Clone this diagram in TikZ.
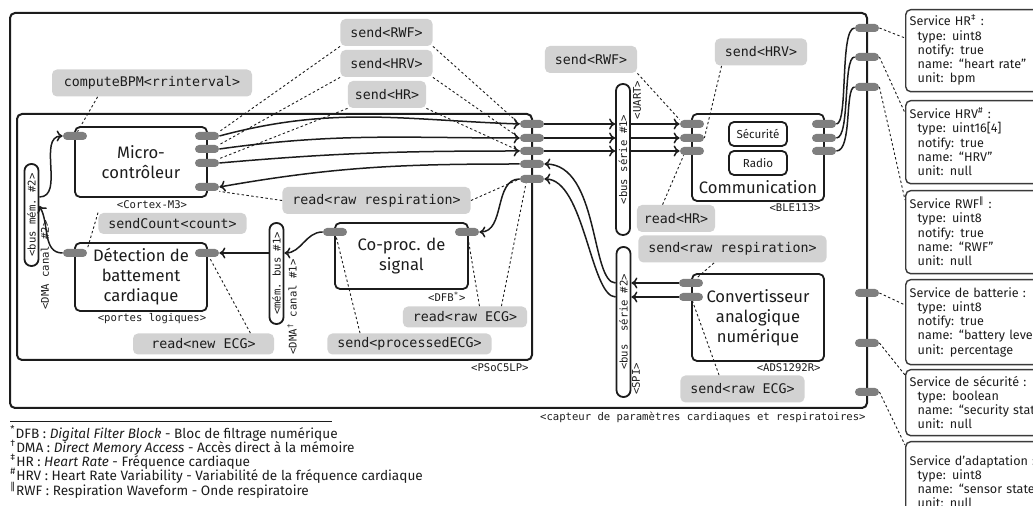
\documentclass[tikz,border=0pt]{standalone}
\usepackage{fontspec}
\setmainfont{Fira Sans}
\newfontfamily\hwMono{DejaVu Sans Mono}
\newfontfamily\hwSym{DejaVu Sans}
\usepackage{tikz}
\usetikzlibrary{arrows.meta,positioning,calc}
\definecolor{hwInk}{HTML}{1C1C1C}
\definecolor{hwPort}{HTML}{7F7F7F}
\definecolor{hwCall}{HTML}{D2D2D2}
\definecolor{hwLine}{HTML}{3A3A3A}
\newcommand{\hwInd}{\hspace*{4pt}}
\newcommand{\hwMark}[1]{\smash{\textsuperscript{#1}}}
\tikzset{
  hwBox/.style={draw=hwInk,line width=0.9pt,rounded corners=2.5pt,inner sep=0pt,
    align=center,font=\fontsize{8.3}{10}\selectfont,text=hwInk},
  hwFrame/.style={draw=hwInk,line width=1pt,rounded corners=2.5pt,inner sep=0pt},
  hwInner/.style={hwBox,font=\fontsize{5.8}{7}\selectfont,minimum width=29pt,minimum height=12pt},
  hwPin/.style={fill=hwPort,rounded corners=2pt,minimum width=12pt,minimum height=4pt,inner sep=0pt},
  hwCallout/.style={fill=hwCall,rounded corners=2.5pt,inner xsep=5pt,inner ysep=0pt,
    minimum height=13.5pt,font=\hwMono\fontsize{6.65}{8}\selectfont,text=hwInk},
  hwCompact/.style={hwCallout,minimum height=10.5pt},
  hwTag/.style={font=\hwMono\fontsize{5.3}{6}\selectfont,text=hwInk,inner sep=0.5pt},
  hwBus/.style={draw=hwInk,line width=0.9pt,rounded corners=3.4pt,minimum width=7pt,inner sep=0pt},
  hwFlow/.style={-{To[length=3pt,width=5.5pt]},line width=0.75pt,draw=hwInk},
  hwWire/.style={line width=0.75pt,draw=hwInk},
  hwDot/.style={draw=hwInk,line width=0.45pt,dash pattern=on 1.2pt off 1.2pt},
  hwSvc/.style={draw=hwLine,line width=0.7pt,rounded corners=2.5pt,anchor=north west,
    align=left,text width=80pt,inner xsep=2pt,inner ysep=3pt,
    font=\fontsize{6.3}{7.1}\selectfont,text=hwInk},
  hwNote/.style={align=left,inner sep=0pt,font=\fontsize{6.8}{7.1}\selectfont,text=hwInk}
}
\begin{document}
\begin{tikzpicture}[x=0.5pt,y=-0.5pt]
\useasboundingbox (0,0) rectangle (1033,506);
% enclosures
\node[hwFrame,minimum width=428.5pt,minimum height=197.5pt] (sensor) at (438.5,210.5) {};
\node[hwTag,anchor=east] (sensorTag) at (867,417) {<capteur de paramètres cardiaques et respiratoires>};
\node[hwFrame,minimum width=257.5pt,minimum height=123pt] (psoc) at (274.5,237) {};
\node[hwTag,anchor=east] (psocTag) at (530,368) {<PSoC5LP>};
% blocks
\node[hwBox,minimum width=66pt,minimum height=35pt] (mcu) at (141,162) {Micro-\\contrôleur};
\node[hwTag] (mcuTag) at (152,205) {<Cortex-M3>};
\node[hwBox,minimum width=66pt,minimum height=34pt] (beat) at (141,277) {Détection de\\battement\\cardiaque};
\node[hwTag] (beatTag) at (152,319) {<portes logiques>};
\node[hwBox,minimum width=66.5pt,minimum height=33pt] (dfb) at (401.5,256) {Co-proc. de\\signal};
\node[hwTag,anchor=east] (dfbTag) at (467,297) {<DFB\textsuperscript{*}>};
\node[hwBox,minimum width=66pt,minimum height=43.5pt] (comm) at (758,157.5) {};
\node[hwInner] (secu) at (758,134) {Sécurité};
\node[hwInner] (radio) at (758,163) {Radio};
\node[font=\fontsize{8.3}{10}\selectfont,text=hwInk,inner sep=0pt] (commTxt) at (758,187) {Communication};
\node[hwTag,anchor=east] (commTag) at (822,208) {<BLE113>};
\node[hwBox,minimum width=66pt,minimum height=43.5pt] (adc) at (758,317.5) {Convertisseur\\analogique\\numérique};
\node[hwTag,anchor=east] (adcTag) at (822,368) {<ADS1292R>};
% buses
\node[hwBus,minimum height=51pt] (memTwo) at (31.5,215) {};
\node[hwTag,rotate=90] (memTwoTxt) at (memTwo) {<bus mém.\ \#2>};
\node[hwTag,rotate=90] (memTwoTag) at (45,265) {<DMA canal \#2>};
\node[hwBus,minimum height=50.5pt] (memOne) at (276.5,273.5) {};
\node[hwTag,rotate=90] (memOneTxt) at (memOne) {<mém.\ bus \#1>};
\node[hwTag,rotate=90] (memOneTag) at (292,307) {<DMA\textsuperscript{†} canal \#1>};
\node[hwBus,minimum height=75.5pt] (uart) at (623,159.5) {};
\node[hwTag,rotate=90] (uartTxt) at (uart) {<bus série \#1>};
\node[hwTag,rotate=90] (uartTag) at (637,100) {<UART>};
\node[hwBus,minimum height=75pt] (spi) at (623.5,322) {};
\node[hwTag,rotate=90] (spiTxt) at (spi) {<bus\ \ série \#2>};
\node[hwTag,rotate=90] (spiTag) at (636,379) {<SPI>};
% ports
\node[hwPin] (mcuL) at (75,136) {};
\node[hwPin] (mcuR1) at (207,136) {};
\node[hwPin] (mcuR2) at (207,149) {};
\node[hwPin] (mcuR3) at (207,163) {};
\node[hwPin] (mcuR4) at (207,187) {};
\node[hwPin] (beatL) at (75,253) {};
\node[hwPin] (beatR) at (207,253) {};
\node[hwPin] (dfbL) at (335,232) {};
\node[hwPin] (dfbR) at (467,232) {};
\node[hwPin] (psocP1) at (532,124) {};
\node[hwPin] (psocP2) at (532,138) {};
\node[hwPin] (psocP3) at (532,151) {};
\node[hwPin] (psocP4) at (532,164) {};
\node[hwPin] (psocP5) at (532,179) {};
\node[hwPin] (commL1) at (692,124) {};
\node[hwPin] (commL2) at (692,138) {};
\node[hwPin] (commL3) at (692,151) {};
\node[hwPin] (commR1) at (824,124) {};
\node[hwPin] (commR2) at (824,138) {};
\node[hwPin] (commR3) at (824,151) {};
\node[hwPin] (adcL1) at (691,283) {};
\node[hwPin] (adcL2) at (691,297) {};
\node[hwPin] (outP1) at (867,28) {};
\node[hwPin] (outP2) at (867,57) {};
\node[hwPin] (outP3) at (867,87) {};
\node[hwPin] (outP4) at (867,293) {};
\node[hwPin] (outP5) at (867,343) {};
\node[hwPin] (outP6) at (867,392) {};
% calls
\node[hwCallout,minimum width=100pt] (cbpm) at (152,83) {computeBPM<rrinterval>};
\node[hwCallout,minimum width=45.5pt] (sRwf) at (386.5,32.5) {send<RWF>};
\node[hwCallout,minimum width=45.5pt] (sHrv) at (386.5,63.5) {send<HRV>};
\node[hwCallout,inner xsep=3.5pt] (sHr) at (387,94.5) {send<HR>};
\node[hwCallout,minimum width=46pt] (sRwfB) at (591,59.5) {send<RWF>};
\node[hwCallout,minimum width=46pt] (sHrvB) at (761,52) {send<HRV>};
\node[hwCallout] (rResp) at (376.5,200.5) {read<raw respiration>};
\node[hwCompact] (sCount) at (172.5,223.5) {sendCount<count>};
\node[hwCompact,minimum width=70.5pt] (rNew) at (203.5,344) {read<new ECG>};
\node[hwCompact] (sProc) at (409.5,344) {send<processedECG>};
\node[hwCompact] (rRaw) at (465,317) {read<raw ECG>};
\node[hwCallout,inner xsep=3.5pt] (rHr) at (676,218.5) {read<HR>};
\node[hwCallout] (sResp) at (732.5,249) {send<raw respiration>};
\node[hwCallout] (sEcg) at (742.5,389) {send<raw ECG>};
% services
\node[hwSvc,minimum height=41pt] (svcHr) at (905,9) {Service HR\hwMark{‡} :\\\hwInd type: uint8\\\hwInd notify: true\\\hwInd name: “heart rate”\\\hwInd unit: bpm};
\node[hwSvc,minimum height=41.5pt] (svcHrv) at (905,100) {Service HRV\hwMark{\#} :\\\hwInd type: uint16[4]\\\hwInd notify: true\\\hwInd name: “HRV”\\\hwInd unit: null};
\node[hwSvc,minimum height=41.5pt] (svcRwf) at (905,190) {Service RWF\hwMark{\hwSym ‖} :\\\hwInd type: uint8\\\hwInd notify: true\\\hwInd name: “RWF”\\\hwInd unit: null};
\node[hwSvc,minimum height=42.5pt] (svcBat) at (905,279) {Service de batterie :\\\hwInd type: uint8\\\hwInd notify: true\\\hwInd name: “battery level”\\\hwInd unit: percentage};
\node[hwSvc,minimum height=33pt] (svcSec) at (905,369) {Service de sécurité :\\\hwInd type: boolean\\\hwInd name: “security state”\\\hwInd unit: null};
\node[hwSvc,minimum height=40pt] (svcAdp) at (905,441) {Service d’adaptation :\\\hwInd type: uint8\\\hwInd name: “sensor state”\\\hwInd unit: null};
% notes
\node[hwNote,anchor=north west] (notes) at (10,427) {\hwMark{*}DFB : \textit{Digital Filter Block} - Bloc de filtrage numérique\\
  \hwMark{†}DMA : \textit{Direct Memory Access} - Accès direct à la mémoire\\
  \hwMark{‡}HR : \textit{Heart Rate} - Fréquence cardiaque\\
  \hwMark{\#}HRV : Heart Rate Variability - Variabilité de la fréquence cardiaque\\
  \hwMark{\hwSym ‖}RWF : Respiration Waveform - Onde respiratoire};
\draw[line width=0.5pt,draw=hwInk] ([yshift=2.5pt]notes.north west) -- ++(322,0);
% data flow
\draw[hwFlow] (mcuR1.east) to[out=15,in=178] (psocP1.west);
\draw[hwFlow] (mcuR2.east) to[out=8,in=180] (psocP2.west);
\draw[hwFlow] (mcuR3.east) to[out=5,in=180] (psocP3.west);
\draw[hwFlow] (psocP4.west) to[out=180,in=10] (mcuR4.east);
\draw[hwFlow] (psocP1.east) -- (psocP1.east -| uart.west);
\draw[hwFlow] (psocP2.east) -- (psocP2.east -| uart.west);
\draw[hwFlow] (psocP3.east) -- (psocP3.east -| uart.west);
\draw[hwFlow] (commL1.west -| uart.east) -- (commL1.west);
\draw[hwFlow] (commL2.west -| uart.east) -- (commL2.west);
\draw[hwFlow] (commL3.west -| uart.east) -- (commL3.west);
\draw[hwFlow] (adcL1.west) -- (adcL1.west -| spi.east);
\draw[hwFlow] (adcL2.west) -- (adcL2.west -| spi.east);
\draw[hwFlow] (adcL1.west -| spi.west) .. controls +(-25,0) and +(55,0) .. (psocP4.east);
\draw[hwFlow] (adcL2.west -| spi.west) .. controls +(-25,0) and +(40,0) .. (psocP5.east);
\draw[hwFlow] (psocP5.west) to[out=180,in=0] (dfbR.east);
\draw[hwFlow] (dfbL.west) to[out=180,in=0] (beatR.east -| memOne.east);
\draw[hwFlow] (beatR.east -| memOne.west) -- (beatR.east);
\draw[hwFlow] (beatL.west) to[out=180,in=-60] ([yshift=4.5pt]memTwo.east);
\draw[hwFlow] ([yshift=9pt]memTwo.east) to[out=0,in=180] (mcuL.west);
\draw[hwWire] (commR1.east) .. controls +(12,0) and +(-15,0) .. (outP1.west);
\draw[hwWire] (commR2.east) .. controls +(14,0) and +(-12,0) .. (outP2.west);
\draw[hwWire] (commR3.east) .. controls +(16,0) and +(-10,0) .. (outP3.west);
% call links
\draw[hwDot] ([xshift=23pt]cbpm.south west) -- (mcuL);
\draw[hwDot] (sRwf.south west) -- (mcuR1.north east);
\draw[hwDot] (sHrv.south west) -- (mcuR2.north east);
\draw[hwDot] (sHr.south west) -- (mcuR3.north east);
\draw[hwDot] (sRwf.south east) -- (psocP1.west);
\draw[hwDot] (sHrv.south east) -- (psocP2.west);
\draw[hwDot] (sHr.south east) -- (psocP3.west);
\draw[hwDot] (rResp.west) -- (mcuR4.south east);
\draw[hwDot] (rResp.east) -- (psocP5.west);
\draw[hwDot] (sCount.north west) -- (beatL.north east);
\draw[hwDot] ([xshift=-12pt]rNew.north east) -- (beatR);
\draw[hwDot] ([xshift=16.5pt]sProc.north west) -- (dfbL);
\draw[hwDot] ([xshift=-24pt]rRaw.north east) -- (dfbR);
\draw[hwDot] ([xshift=-13pt]rRaw.north east) -- ([xshift=-3pt]psocP5.south);
\draw[hwDot] (sRwfB.south east) -- (commL1.north west);
\draw[hwDot] ([xshift=3.5pt]sHrvB.south west) -- (commL2.east);
\draw[hwDot] ([xshift=13pt]rHr.north west) -- ([xshift=2pt]commL3.south west);
\draw[hwDot] ([xshift=38pt]sResp.south west) -- (adcL1);
\draw[hwDot] ([xshift=19.5pt]sEcg.north west) -- (adcL2);
\draw[hwDot] (outP1.east) -- ([yshift=-14.5pt]svcHr.north west);
\draw[hwDot] (outP2.east) -- ([yshift=-6.5pt]svcHrv.north west);
\draw[hwDot] (outP3.east) -- ([yshift=-5pt]svcRwf.north west);
\draw[hwDot] (outP4.east) -- ([yshift=-13pt]svcBat.north west);
\draw[hwDot] (outP5.east) -- ([yshift=-3pt]svcSec.north west);
\draw[hwDot] (outP6.east) -- ([yshift=-2pt]svcAdp.north west);
\end{tikzpicture}
\end{document}
